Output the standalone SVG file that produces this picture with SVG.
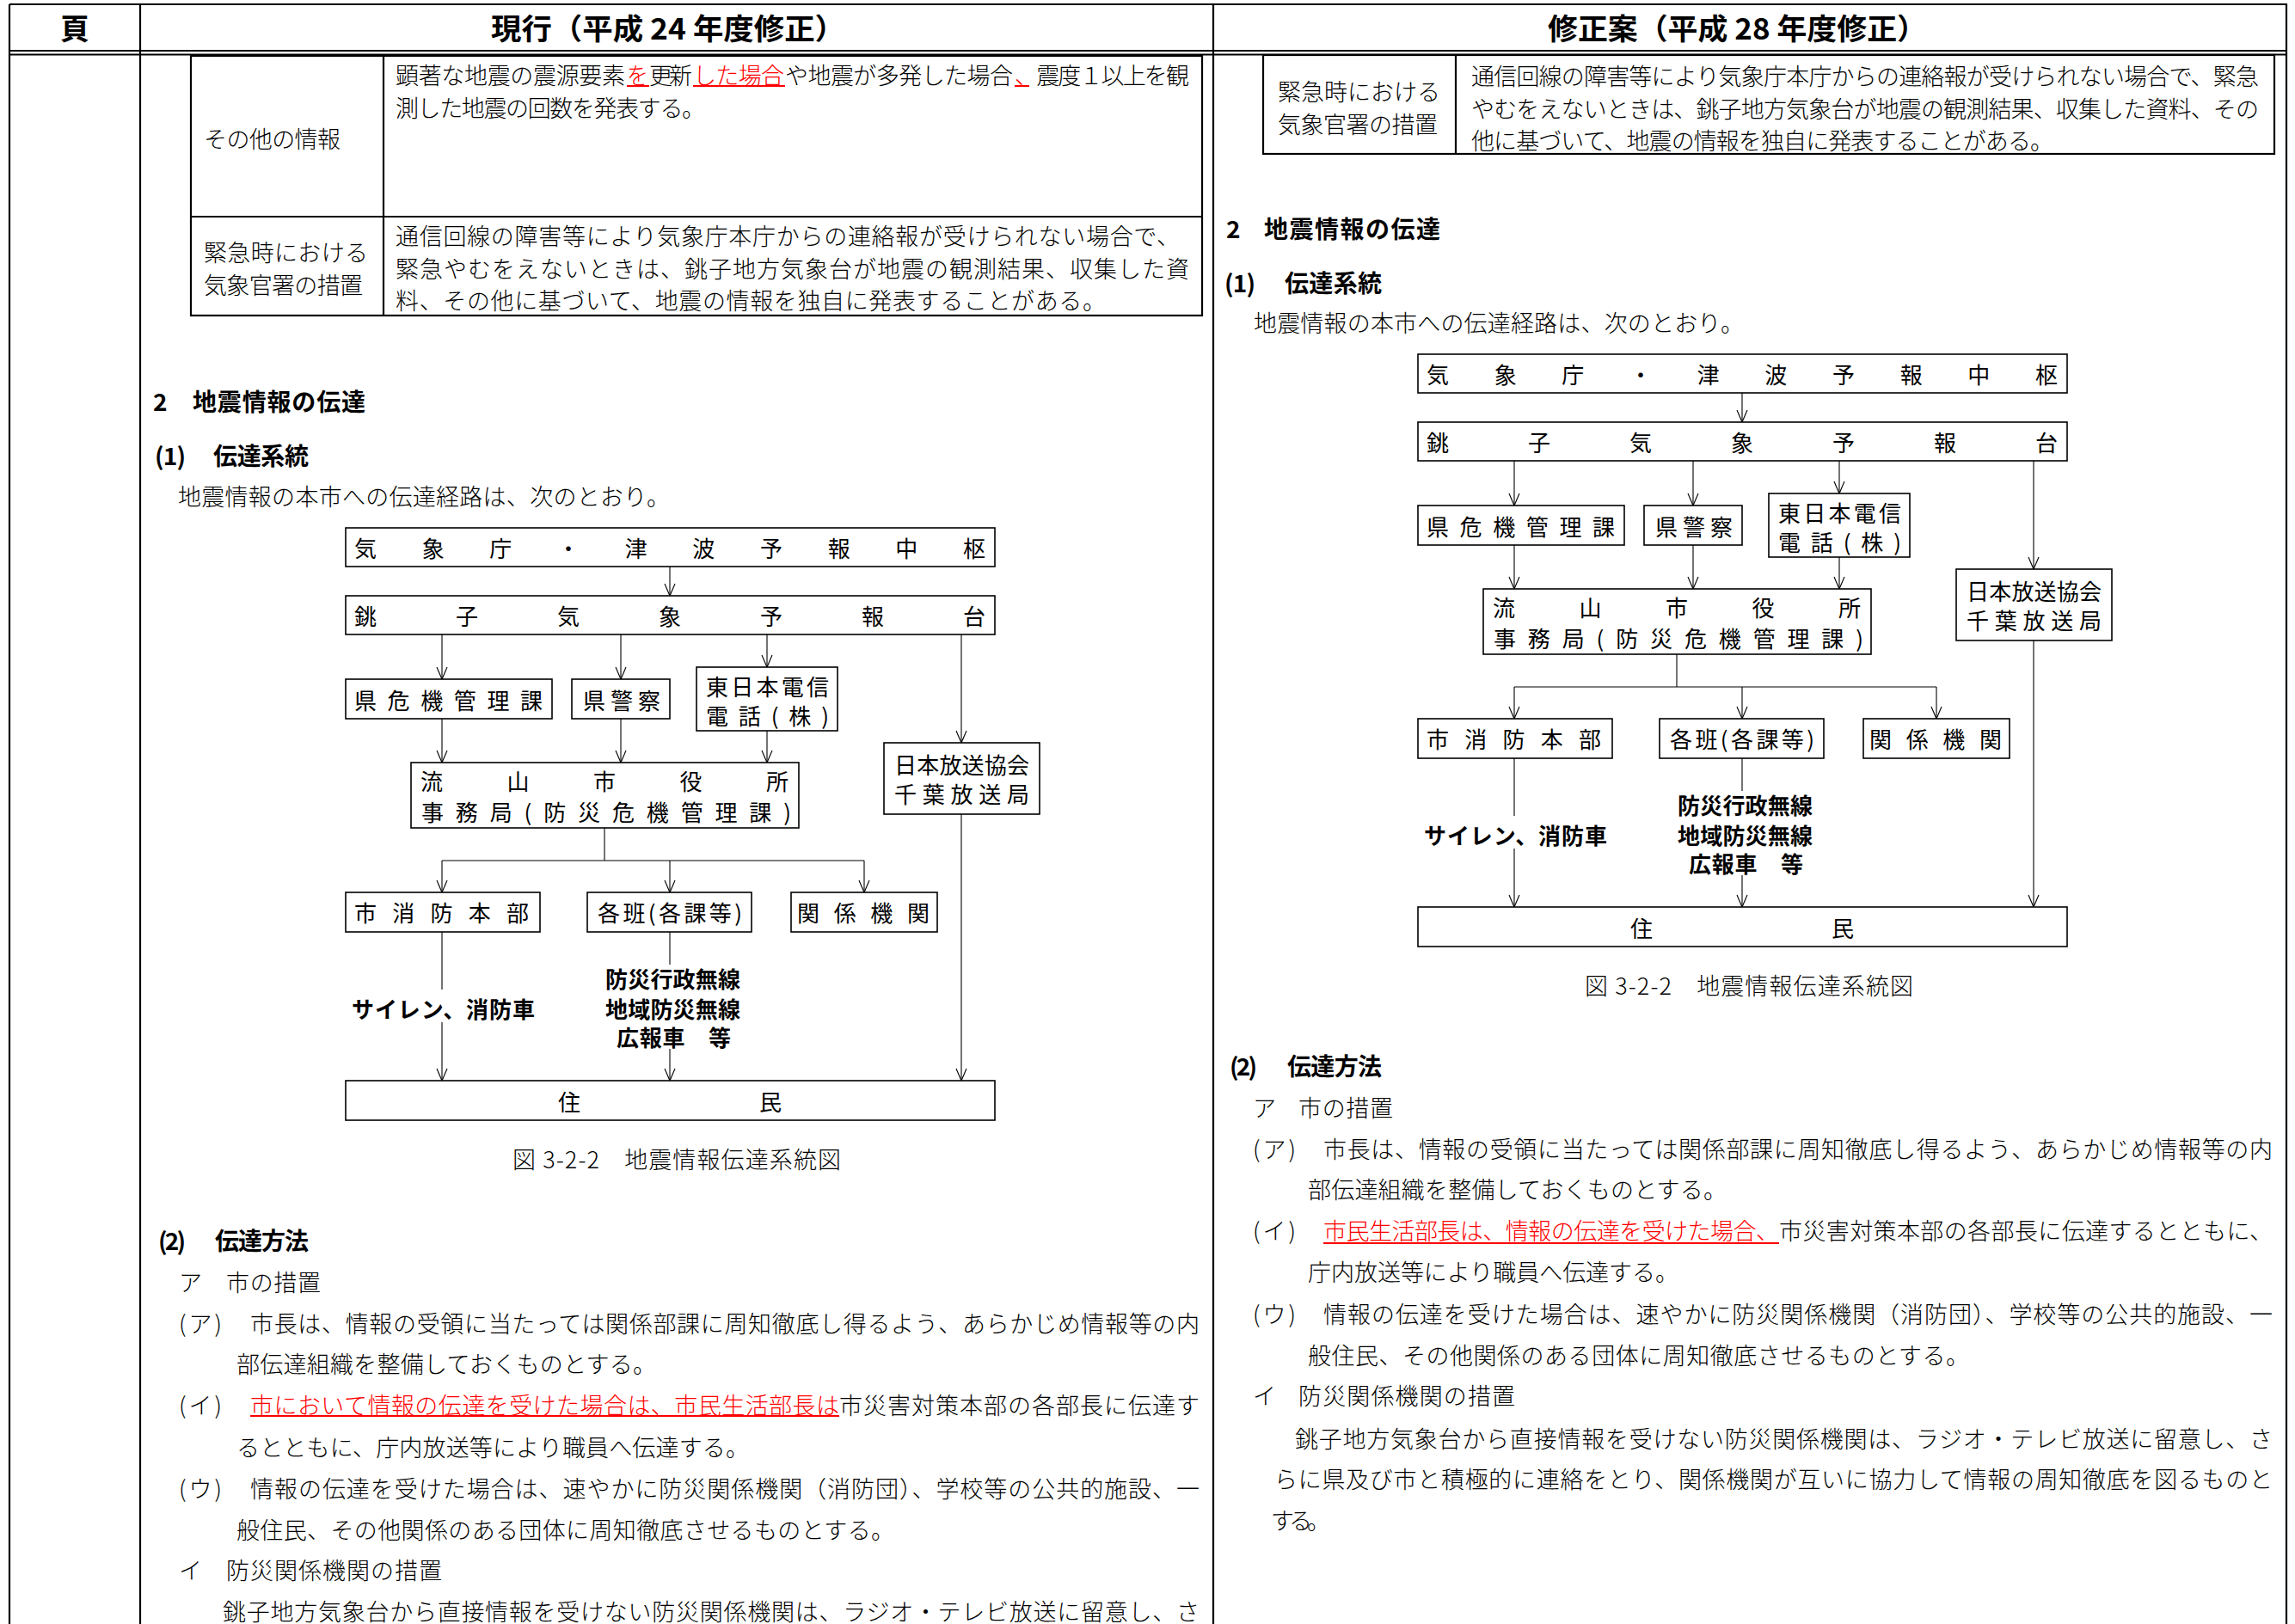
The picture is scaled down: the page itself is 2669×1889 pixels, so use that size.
<svg xmlns="http://www.w3.org/2000/svg" width="2669" height="1889" viewBox="0 0 2669 1889">
<style>
.t{font-family:"Noto Sans CJK JP","Noto Sans CJK SC",sans-serif;dominant-baseline:central;fill:#000}
.body{font-size:27px;font-weight:300}
.hd{font-size:28px;font-weight:700}
.hdr{font-size:34px;font-weight:700}
.bx{font-size:26px;font-weight:400}
.lbl{font-size:26px;font-weight:700}
.red{fill:#f00}
.frame{stroke:#000;stroke-width:2.2;fill:none}
.ul{stroke:#f00;stroke-width:2}
.node rect{fill:#fff;stroke:#000;stroke-width:1.6}
.conn line{stroke:#000;stroke-width:1.1;fill:none}
.arr{marker-end:url(#ah)}
</style>
<defs>
<marker id="ah" markerUnits="userSpaceOnUse" orient="auto" refX="0" refY="0" overflow="visible">
<path d="M-14,-6 L0,0 L-14,6" fill="none" stroke="#000" stroke-width="1.1"/>
</marker>
</defs>
<rect width="2669" height="1889" fill="#fff"/>

<g id="page-frame">
<line class="frame" x1="11" y1="5" x2="2660" y2="5" stroke-width="3"/>
<line class="frame" x1="11" y1="59" x2="2660" y2="59"/>
<line class="frame" x1="11" y1="63.5" x2="2660" y2="63.5"/>
<line class="frame" x1="11" y1="5" x2="11" y2="1889"/>
<line class="frame" x1="163" y1="5" x2="163" y2="1889"/>
<line class="frame" x1="1411" y1="5" x2="1411" y2="1889"/>
<line class="frame" x1="2659" y1="5" x2="2659" y2="1889"/>
<text class="t hdr" x="87" y="31" text-anchor="middle">頁</text>
<text class="t hdr" x="571" y="31" textLength="412" lengthAdjust="spacingAndGlyphs">現行（平成 24 年度修正）</text>
<text class="t hdr" x="1800" y="31" textLength="441" lengthAdjust="spacingAndGlyphs">修正案（平成 28 年度修正）</text>
</g>

<g id="left-table">
<rect class="frame" x="222" y="65" width="1176" height="302"/>
<line class="frame" x1="446" y1="65" x2="446" y2="367"/>
<line class="frame" x1="222" y1="252" x2="1398" y2="252" stroke-width="3"/>
<line class="frame" x1="222" y1="367" x2="1398" y2="367" stroke-width="3"/>
<text class="t body" x="237" y="160" textLength="159">その他の情報</text>
<text class="t body" x="460" y="86" textLength="267">顕著な地震の震源要素</text>
<text class="t body red" x="729" y="86" textLength="25" lengthAdjust="spacingAndGlyphs">を</text>
<text class="t body" x="755" y="86" textLength="50">更新</text>
<text class="t body red" x="806" y="86" textLength="106">した場合</text>
<text class="t body" x="913" y="86" textLength="265">や地震が多発した場合</text>
<text class="t body" x="1180" y="86" textLength="203"><tspan class="red">、</tspan>震度１以上を観</text>
<line class="ul" x1="729" y1="100" x2="755" y2="100"/>
<line class="ul" x1="806" y1="100" x2="913" y2="100"/>
<line class="ul" x1="1180" y1="100" x2="1197" y2="100"/>
<text class="t body" x="460" y="124" textLength="360">測した地震の回数を発表する。</text>
<text class="t body" x="237" y="292" textLength="191">緊急時における</text>
<text class="t body" x="237" y="330" textLength="185">気象官署の措置</text>
<text class="t body" x="460" y="273" textLength="912">通信回線の障害等により気象庁本庁からの連絡報が受けられない場合で、</text>
<text class="t body" x="460" y="311" textLength="923">緊急やむをえないときは、銚子地方気象台が地震の観測結果、収集した資</text>
<text class="t body" x="460" y="348" textLength="826">料、その他に基づいて、地震の情報を独自に発表することがある。</text>
</g>

<g id="right-table">
<rect class="frame" x="1469" y="64" width="1176" height="115"/>
<line class="frame" x1="1693" y1="64" x2="1693" y2="179"/>
<line class="frame" x1="1469" y1="179" x2="2645" y2="179" stroke-width="3"/>
<text class="t body" x="1486" y="105" textLength="189">緊急時における</text>
<text class="t body" x="1486" y="143" textLength="186">気象官署の措置</text>
<text class="t body" x="1711" y="87" textLength="916">通信回線の障害等により気象庁本庁からの連絡報が受けられない場合で、緊急</text>
<text class="t body" x="1711" y="125" textLength="916">やむをえないときは、銚子地方気象台が地震の観測結果、収集した資料、その</text>
<text class="t body" x="1711" y="162" textLength="677">他に基づいて、地震の情報を独自に発表することがある。</text>
</g>

<g id="left-headings">
<text class="t hd" x="178" y="466">2</text>
<text class="t hd" x="224" y="466" textLength="201">地震情報の伝達</text>
<text class="t hd" x="180" y="529" textLength="36">(1)</text>
<text class="t hd" x="248" y="529" textLength="111">伝達系統</text>
<text class="t body" x="207" y="576" textLength="572">地震情報の本市への伝達経路は、次のとおり。</text>
</g>

<g id="right-headings">
<text class="t hd" x="1426" y="265">2</text>
<text class="t hd" x="1470" y="265" textLength="205">地震情報の伝達</text>
<text class="t hd" x="1424" y="328" textLength="36">(1)</text>
<text class="t hd" x="1494" y="328" textLength="113">伝達系統</text>
<text class="t body" x="1458" y="374" textLength="570">地震情報の本市への伝達経路は、次のとおり。</text>
</g>

<g id="connectors" class="conn">
<line class="arr" x1="779" y1="659" x2="779" y2="693"/>
<line class="arr" x1="514" y1="738" x2="514" y2="790"/>
<line class="arr" x1="722" y1="738" x2="722" y2="790"/>
<line class="arr" x1="892" y1="738" x2="892" y2="776"/>
<line class="arr" x1="1118" y1="738" x2="1118" y2="864"/>
<line class="arr" x1="514" y1="836" x2="514" y2="887"/>
<line class="arr" x1="722" y1="836" x2="722" y2="887"/>
<line class="arr" x1="892" y1="850" x2="892" y2="887"/>
<line x1="703" y1="963" x2="703" y2="1001"/>
<line x1="514" y1="1001" x2="1005" y2="1001"/>
<line class="arr" x1="514" y1="1001" x2="514" y2="1038"/>
<line class="arr" x1="779" y1="1001" x2="779" y2="1038"/>
<line class="arr" x1="1005" y1="1001" x2="1005" y2="1038"/>
<line x1="514" y1="1084" x2="514" y2="1151"/>
<line class="arr" x1="514" y1="1189" x2="514" y2="1257"/>
<line x1="779" y1="1084" x2="779" y2="1122"/>
<line class="arr" x1="779" y1="1220" x2="779" y2="1257"/>
<line class="arr" x1="1118" y1="947" x2="1118" y2="1257"/>

<line class="arr" x1="2026" y1="457" x2="2026" y2="491"/>
<line class="arr" x1="1761" y1="536" x2="1761" y2="588"/>
<line class="arr" x1="1969" y1="536" x2="1969" y2="588"/>
<line class="arr" x1="2139" y1="536" x2="2139" y2="574"/>
<line class="arr" x1="2365" y1="536" x2="2365" y2="662"/>
<line class="arr" x1="1761" y1="634" x2="1761" y2="685"/>
<line class="arr" x1="1969" y1="634" x2="1969" y2="685"/>
<line class="arr" x1="2139" y1="648" x2="2139" y2="685"/>
<line x1="1950" y1="761" x2="1950" y2="799"/>
<line x1="1761" y1="799" x2="2252" y2="799"/>
<line class="arr" x1="1761" y1="799" x2="1761" y2="836"/>
<line class="arr" x1="2026" y1="799" x2="2026" y2="836"/>
<line class="arr" x1="2252" y1="799" x2="2252" y2="836"/>
<line x1="1761" y1="882" x2="1761" y2="949"/>
<line class="arr" x1="1761" y1="987" x2="1761" y2="1055"/>
<line x1="2026" y1="882" x2="2026" y2="920"/>
<line class="arr" x1="2026" y1="1018" x2="2026" y2="1055"/>
<line class="arr" x1="2365" y1="745" x2="2365" y2="1055"/>
</g>

<g id="L-jma" class="node"><rect x="402" y="614" width="755" height="45"/><text class="t bx" x="412" y="636" textLength="734">気象庁・津波予報中枢</text></g>
<g id="L-choshi" class="node"><rect x="402" y="693" width="755" height="45"/><text class="t bx" x="412" y="715" textLength="734">銚子気象予報台</text></g>
<g id="L-ken-kiki" class="node"><rect x="402" y="790" width="240" height="46"/><text class="t bx" x="412" y="813" textLength="219">県危機管理課</text></g>
<g id="L-keisatsu" class="node"><rect x="665" y="790" width="114" height="46"/><text class="t bx" x="678" y="813" textLength="90">県警察</text></g>
<g id="L-ntt" class="node"><rect x="810" y="776" width="164" height="74"/><text class="t bx" x="821" y="797" textLength="143">東日本電信</text><text class="t bx" x="821" y="831" textLength="143">電話(株)</text></g>
<g id="L-city" class="node"><rect x="478" y="887" width="451" height="76"/><text class="t bx" x="489" y="907" textLength="428">流山市役所</text><text class="t bx" x="490" y="943" textLength="430">事務局(防災危機管理課)</text></g>
<g id="L-nhk" class="node"><rect x="1028" y="864" width="181" height="83"/><text class="t bx" x="1040" y="888" textLength="157">日本放送協会</text><text class="t bx" x="1040" y="922" textLength="157">千葉放送局</text></g>
<g id="L-fire" class="node"><rect x="402" y="1038" width="226" height="46"/><text class="t bx" x="412" y="1060" textLength="203">市消防本部</text></g>
<g id="L-han" class="node"><rect x="683" y="1038" width="191" height="46"/><text class="t bx" x="695" y="1060" textLength="168">各班(各課等)</text></g>
<g id="L-kankei" class="node"><rect x="920" y="1038" width="170" height="46"/><text class="t bx" x="927" y="1060" textLength="154">関係機関</text></g>
<g id="L-jumin" class="node"><rect x="402" y="1257" width="755" height="46"/><text class="t bx" x="649" y="1280" textLength="260">住民</text></g>
<g id="L-labels">
<text class="t lbl" x="409" y="1172" textLength="213">サイレン、消防車</text>
<text class="t lbl" x="704" y="1137" textLength="157">防災行政無線</text>
<text class="t lbl" x="704" y="1172" textLength="157">地域防災無線</text>
<text class="t lbl" x="717" y="1205" textLength="133">広報車　等</text>
<text class="t body" x="596" y="1347" textLength="382">図 3-2-2　地震情報伝達系統図</text>
</g>

<g id="R-jma" class="node"><rect x="1649" y="412" width="755" height="45"/><text class="t bx" x="1659" y="434" textLength="734">気象庁・津波予報中枢</text></g>
<g id="R-choshi" class="node"><rect x="1649" y="491" width="755" height="45"/><text class="t bx" x="1659" y="513" textLength="734">銚子気象予報台</text></g>
<g id="R-ken-kiki" class="node"><rect x="1649" y="588" width="240" height="46"/><text class="t bx" x="1659" y="611" textLength="219">県危機管理課</text></g>
<g id="R-keisatsu" class="node"><rect x="1912" y="588" width="114" height="46"/><text class="t bx" x="1925" y="611" textLength="90">県警察</text></g>
<g id="R-ntt" class="node"><rect x="2057" y="574" width="164" height="74"/><text class="t bx" x="2068" y="595" textLength="143">東日本電信</text><text class="t bx" x="2068" y="629" textLength="143">電話(株)</text></g>
<g id="R-city" class="node"><rect x="1725" y="685" width="451" height="76"/><text class="t bx" x="1736" y="705" textLength="428">流山市役所</text><text class="t bx" x="1737" y="741" textLength="430">事務局(防災危機管理課)</text></g>
<g id="R-nhk" class="node"><rect x="2275" y="662" width="181" height="83"/><text class="t bx" x="2287" y="686" textLength="157">日本放送協会</text><text class="t bx" x="2287" y="720" textLength="157">千葉放送局</text></g>
<g id="R-fire" class="node"><rect x="1649" y="836" width="226" height="46"/><text class="t bx" x="1659" y="858" textLength="203">市消防本部</text></g>
<g id="R-han" class="node"><rect x="1930" y="836" width="191" height="46"/><text class="t bx" x="1942" y="858" textLength="168">各班(各課等)</text></g>
<g id="R-kankei" class="node"><rect x="2167" y="836" width="170" height="46"/><text class="t bx" x="2174" y="858" textLength="154">関係機関</text></g>
<g id="R-jumin" class="node"><rect x="1649" y="1055" width="755" height="46"/><text class="t bx" x="1896" y="1078" textLength="260">住民</text></g>
<g id="R-labels">
<text class="t lbl" x="1656" y="970" textLength="213">サイレン、消防車</text>
<text class="t lbl" x="1951" y="935" textLength="157">防災行政無線</text>
<text class="t lbl" x="1951" y="970" textLength="157">地域防災無線</text>
<text class="t lbl" x="1964" y="1003" textLength="133">広報車　等</text>
<text class="t body" x="1843" y="1145" textLength="382">図 3-2-2　地震情報伝達系統図</text>
</g>

<g id="left-method">
<text class="t hd" x="184" y="1442" textLength="32">(2)</text>
<text class="t hd" x="250" y="1442" textLength="109">伝達方法</text>
<text class="t body" x="208" y="1490">ア</text>
<text class="t body" x="263" y="1490" textLength="110">市の措置</text>
<text class="t body" x="208" y="1538" textLength="50">(ア)</text>
<text class="t body" x="291" y="1538" textLength="1104">市長は、情報の受領に当たっては関係部課に周知徹底し得るよう、あらかじめ情報等の内</text>
<text class="t body" x="275" y="1585" textLength="488">部伝達組織を整備しておくものとする。</text>
<text class="t body" x="208" y="1633" textLength="50">(イ)</text>
<text class="t body red" x="291" y="1633" textLength="685">市において情報の伝達を受けた場合は、市民生活部長は</text>
<text class="t body" x="976" y="1633" textLength="419">市災害対策本部の各部長に伝達す</text>
<line class="ul" x1="291" y1="1647" x2="976" y2="1647"/>
<text class="t body" x="275" y="1682" textLength="596">るとともに、庁内放送等により職員へ伝達する。</text>
<text class="t body" x="208" y="1730" textLength="50">(ウ)</text>
<text class="t body" x="291" y="1730" textLength="1104">情報の伝達を受けた場合は、速やかに防災関係機関（消防団）、学校等の公共的施設、一</text>
<text class="t body" x="275" y="1778" textLength="765">般住民、その他関係のある団体に周知徹底させるものとする。</text>
<text class="t body" x="208" y="1825">イ</text>
<text class="t body" x="263" y="1825" textLength="251">防災関係機関の措置</text>
<text class="t body" x="259" y="1873" textLength="1136">銚子地方気象台から直接情報を受けない防災関係機関は、ラジオ・テレビ放送に留意し、さ</text>
</g>

<g id="right-method">
<text class="t hd" x="1430" y="1239" textLength="32">(2)</text>
<text class="t hd" x="1497" y="1239" textLength="110">伝達方法</text>
<text class="t body" x="1457" y="1287">ア</text>
<text class="t body" x="1510" y="1287" textLength="110">市の措置</text>
<text class="t body" x="1457" y="1335" textLength="50">(ア)</text>
<text class="t body" x="1539" y="1335" textLength="1104">市長は、情報の受領に当たっては関係部課に周知徹底し得るよう、あらかじめ情報等の内</text>
<text class="t body" x="1521" y="1382" textLength="487">部伝達組織を整備しておくものとする。</text>
<text class="t body" x="1457" y="1430" textLength="50">(イ)</text>
<text class="t body red" x="1539" y="1430" textLength="530">市民生活部長は、情報の伝達を受けた場合、</text>
<text class="t body" x="2069" y="1430" textLength="574">市災害対策本部の各部長に伝達するとともに、</text>
<line class="ul" x1="1539" y1="1446" x2="2069" y2="1446"/>
<text class="t body" x="1521" y="1478" textLength="431">庁内放送等により職員へ伝達する。</text>
<text class="t body" x="1457" y="1527" textLength="50">(ウ)</text>
<text class="t body" x="1539" y="1527" textLength="1104">情報の伝達を受けた場合は、速やかに防災関係機関（消防団）、学校等の公共的施設、一</text>
<text class="t body" x="1521" y="1575" textLength="769">般住民、その他関係のある団体に周知徹底させるものとする。</text>
<text class="t body" x="1457" y="1622">イ</text>
<text class="t body" x="1510" y="1622" textLength="252">防災関係機関の措置</text>
<text class="t body" x="1506" y="1672" textLength="1137">銚子地方気象台から直接情報を受けない防災関係機関は、ラジオ・テレビ放送に留意し、さ</text>
<text class="t body" x="1482" y="1719" textLength="1161">らに県及び市と積極的に連絡をとり、関係機関が互いに協力して情報の周知徹底を図るものと</text>
<text class="t body" x="1478" y="1767" textLength="69">する。</text>
</g>
</svg>
